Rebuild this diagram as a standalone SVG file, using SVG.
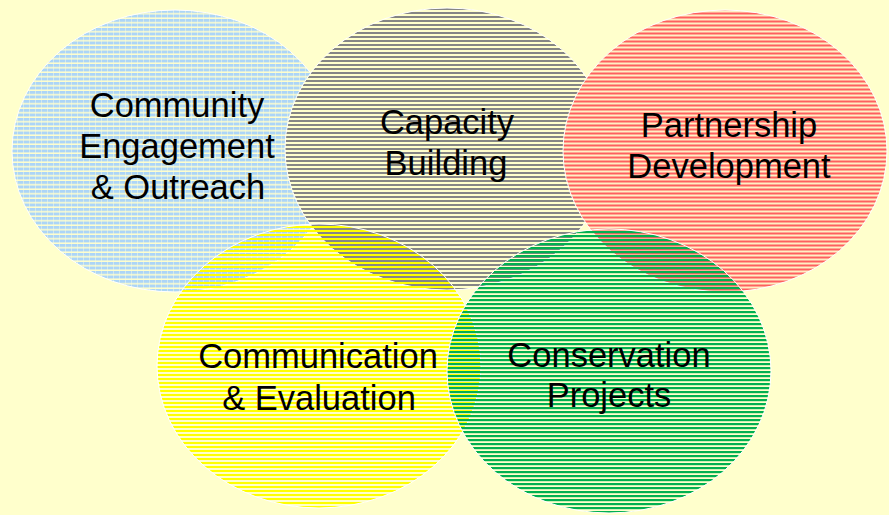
<svg xmlns="http://www.w3.org/2000/svg" width="889" height="515" viewBox="0 0 889 515">
<style>
.bg{fill:#ffffcc}
.ring{stroke:#ffffff;stroke-width:1}
.lbl{font-family:"Liberation Sans",Arial,sans-serif;font-size:34.5px;fill:#000000;text-anchor:middle}
</style>
<defs>
<pattern id="pBlue" patternUnits="userSpaceOnUse" x="0" y="1" width="6" height="4.5">
<rect x="0" y="0" width="5" height="3" fill="#acd5f7"/>
<rect x="5" y="0" width="1" height="3" fill="#d2e8ee"/>
</pattern>
<pattern id="pGrey" patternUnits="userSpaceOnUse" x="0" y="0" width="8" height="4">
<rect x="0" y="0" width="8" height="4" fill="#ffffcc"/>
<rect x="0" y="0" width="8" height="2" fill="#858585"/>
</pattern>
<pattern id="pRed" patternUnits="userSpaceOnUse" x="0" y="0.5" width="8" height="4">
<rect x="0" y="0" width="8" height="4" fill="#ffefc4"/>
<rect x="0" y="0" width="8" height="2" fill="#ff5f5f"/>
</pattern>
<pattern id="pYellow" patternUnits="userSpaceOnUse" x="0" y="2" width="8" height="4">
<rect x="0" y="0" width="8" height="2" fill="#ffff00"/>
</pattern>
<pattern id="pGreen" patternUnits="userSpaceOnUse" x="0" y="3" width="8" height="4">
<rect x="0" y="0" width="8" height="2.2" fill="#00b050"/>
</pattern>
</defs>
<rect class="bg" x="0" y="0" width="889" height="515"/>
<g id="community-engagement">
<ellipse class="ring" cx="175" cy="151" rx="163" ry="141" fill="url(#pBlue)"/>
</g>
<g id="capacity-building">
<ellipse class="ring" cx="447" cy="149" rx="162" ry="141" fill="url(#pGrey)"/>
</g>
<g id="partnership-development">
<ellipse class="ring" cx="725" cy="151" rx="162" ry="141" fill="url(#pRed)"/>
</g>
<g id="communication-evaluation">
<ellipse class="ring" cx="319" cy="366" rx="162" ry="142" fill="url(#pYellow)"/>
</g>
<g id="conservation-projects">
<ellipse class="ring" cx="609" cy="371" rx="162" ry="142" fill="url(#pGreen)"/>
</g>
<g id="labels">
<text class="lbl" x="177" y="117">Community</text>
<text class="lbl" x="177" y="158">Engagement</text>
<text class="lbl" x="178" y="199">&amp; Outreach</text>
<text class="lbl" x="447" y="134">Capacity</text>
<text class="lbl" x="446" y="175">Building</text>
<text class="lbl" x="729" y="137">Partnership</text>
<text class="lbl" x="729" y="178">Development</text>
<text class="lbl" x="318" y="368">Communication</text>
<text class="lbl" x="319" y="410">&amp; Evaluation</text>
<text class="lbl" x="609" y="367">Conservation</text>
<text class="lbl" x="609" y="407">Projects</text>
</g>
</svg>
